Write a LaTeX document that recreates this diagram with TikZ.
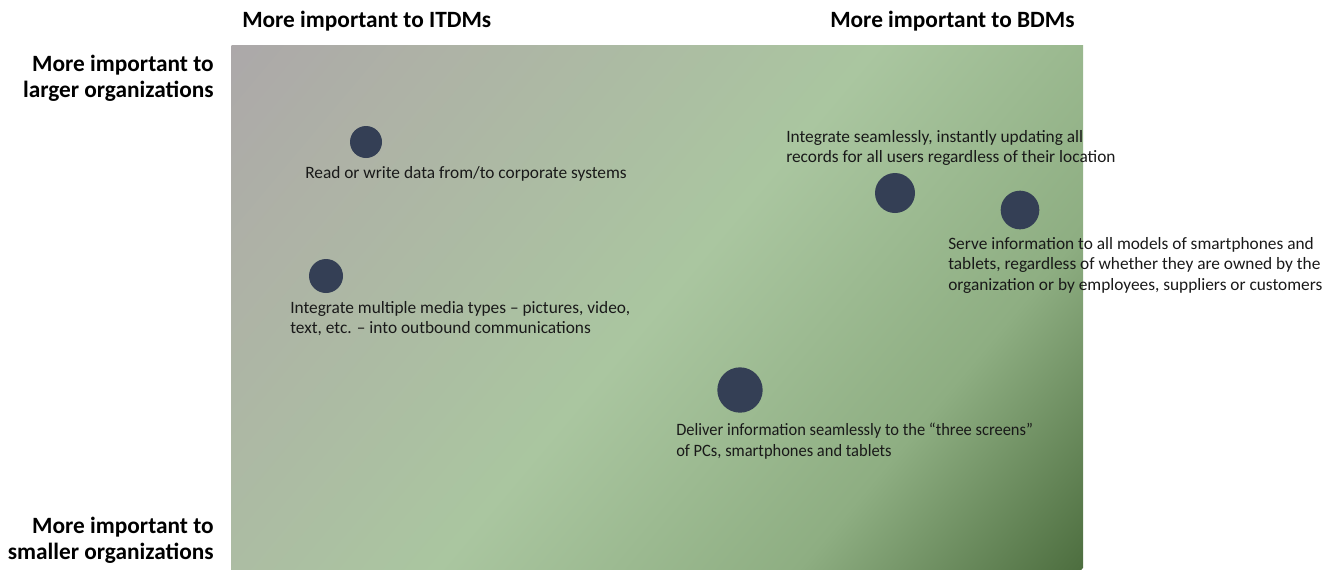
\documentclass[tikz,border=0pt]{standalone}
\usepackage{fontspec}
\setmainfont{Carlito}
\newfontfamily\narrowfont[FakeStretch=0.95]{Carlito}
\definecolor{bgA}{RGB}{172,168,169}
\definecolor{bgA2}{RGB}{174,178,166}
\definecolor{bgB}{RGB}{170,198,160}
\definecolor{bgC}{RGB}{142,174,130}
\definecolor{bgD}{RGB}{77,110,63}
\definecolor{dotc}{RGB}{52,63,85}
\definecolor{txt}{RGB}{25,25,25}
\pgfdeclarehorizontalshading{quadbg}{100bp}{color(0bp)=(bgA); color(25bp)=(bgA); color(33bp)=(bgA2); color(50bp)=(bgB); color(64bp)=(bgC); color(75bp)=(bgD); color(100bp)=(bgD)}
\begin{document}
\begin{tikzpicture}[x=0.75pt,y=-0.75pt,
  dot/.style={circle, fill=dotc, inner sep=0pt, minimum size=#1},
  lbl/.style={font=\fontsize{13pt}{15.5pt}\selectfont, text=txt, inner sep=0pt, align=left, anchor=north west},
  head/.style={font=\bfseries\fontsize{17.5pt}{19.5pt}\selectfont, text=black, inner sep=0pt}]
\useasboundingbox (0,0) rectangle (1338,569);
\begin{scope}
  \clip (231,45) rectangle (1083,569);
  \begin{scope}[transform canvas={shift={(657,307)},rotate=-40}]
    \shade[shading=quadbg] (-494,-560) rectangle (494,560);
  \end{scope}
\end{scope}
\node[head, anchor=west] (hit) at (242,21) {More important to ITDMs};
\node[head, anchor=west] (hbd) at (830,21) {More important to BDMs};
\node[head, anchor=north east, align=right] (hlg) at (214,55) {More important to\\larger organizations};
\node[head, anchor=north east, align=right] (hsm) at (214,517) {More important to\\smaller organizations};
\node[dot=24pt] (c1) at (366,142) {};
\node[dot=25.5pt] (c2) at (326,276) {};
\node[dot=30pt] (c3) at (895,193) {};
\node[dot=29pt] (c4) at (1020,210) {};
\node[dot=34pt] (c5) at (740,390) {};
\node[lbl] (t1) at (305,166) {Read or write data from/to corporate systems};
\node[lbl] (t2) at (290,301) {Integrate multiple media types -- pictures, video,\\text, etc. -- into outbound communications};
\node[lbl] (t3) at (786,130) {Integrate seamlessly, instantly updating all\\records for all users regardless of their location};
\node[lbl] (t4) at (948,237) {Serve information to all models of smartphones and\\tablets, regardless of whether they are owned by the\\organization or by employees, suppliers or customers};
\node[lbl, font=\narrowfont\fontsize{13pt}{15.5pt}\selectfont] (t5) at (676,423) {Deliver information seamlessly to the “three screens”\\of PCs, smartphones and tablets};
\end{tikzpicture}
\end{document}
